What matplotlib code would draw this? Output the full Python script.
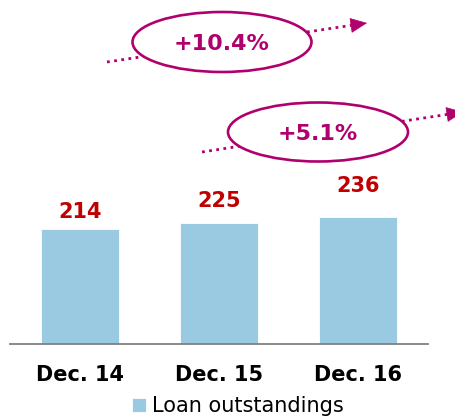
import matplotlib
matplotlib.use("Agg")
import matplotlib.pyplot as plt
from matplotlib.patches import Ellipse

# data
periods = ["Dec. 14", "Dec. 15", "Dec. 16"]
loans = [214, 225, 236]
series_name = "Loan outstandings"
growth_labels = ["+10.4%", "+5.1%"]

BAR = "#99cae2"
RED = "#c00000"
MAGENTA = "#b0006e"

W, H = 456, 416
fig = plt.figure(figsize=(W / 100, H / 100), dpi=100)
fig.patch.set_facecolor("white")


def px_rect(x0, y0, x1, y1):
    """Pixel box (top-left origin) -> figure fraction rect."""
    return [x0 / W, 1 - y1 / H, (x1 - x0) / W, (y1 - y0) / H]


# ---------------------------------------------------------------------------
# bars
ax = fig.add_axes(px_rect(10, 170, 428, 344))
x = range(len(periods))
bars = ax.bar(x, loans, width=0.56, color=BAR, edgecolor="white",
              linewidth=0.6, label=series_name, zorder=2)
ax.set_xlim(-0.504, 2.504)
ax.set_ylim(0, 324)

for spine in ["top", "left", "right"]:
    ax.spines[spine].set_visible(False)
ax.spines["bottom"].set_color("#808080")
ax.spines["bottom"].set_linewidth(1.3)
ax.set_yticks([])
ax.set_xticks(list(x))
ax.set_xticklabels(periods, fontsize=15, fontweight="bold", color="black")
ax.tick_params(axis="x", length=0, pad=15)

label_offsets = [7, 12, 21]
for rect, val, off in zip(bars, loans, label_offsets):
    ax.annotate(str(val), (rect.get_x() + rect.get_width() / 2, rect.get_height()),
                xytext=(0, off), textcoords="offset pixels",
                ha="center", va="bottom", fontsize=15, fontweight="bold",
                color=RED)

fig.legend(handles=[bars], labels=[series_name], loc="center",
           bbox_to_anchor=(238 / W, 1 - 406 / H), frameon=False,
           fontsize=15, handlelength=0.65, handleheight=0.65,
           handletextpad=0.3, borderaxespad=0)

# ---------------------------------------------------------------------------
# growth call-outs (pixel overlay)
ov = fig.add_axes([0, 0, 1, 1], zorder=5)
ov.set_xlim(0, W)
ov.set_ylim(H, 0)
ov.axis("off")
ov.patch.set_alpha(0)

callouts = [
    # (line start, arrow tip, ellipse centre, ellipse w, h)
    ((107, 62), (367, 23), (222, 42), 179, 60),
    ((202, 152), (463, 112), (318, 132), 180, 59),
]
for label, (start, tip, centre, ew, eh) in zip(growth_labels, callouts):
    dx, dy = tip[0] - start[0], tip[1] - start[1]
    n = (dx ** 2 + dy ** 2) ** 0.5
    ux, uy = dx / n, dy / n
    head = 16
    base = (tip[0] - ux * head, tip[1] - uy * head)
    ov.plot([start[0], base[0]], [start[1], base[1]], color=MAGENTA,
            lw=2, linestyle=(0, (1, 1.6)), zorder=1)
    ov.annotate("", xy=tip, xytext=(base[0] + ux, base[1] + uy),
                arrowprops=dict(arrowstyle="-|>,head_length=1.1,head_width=0.5",
                                color=MAGENTA, lw=0.5, shrinkA=0, shrinkB=0),
                annotation_clip=False, zorder=2)
    ov.add_patch(Ellipse(centre, ew, eh, facecolor="white", edgecolor=MAGENTA,
                         lw=1.9, zorder=3))
    ov.text(centre[0], centre[1] + 2, label, ha="center", va="center",
            fontsize=16, fontweight="bold", color=MAGENTA, zorder=4)

fig.savefig("out.png", dpi=100)
